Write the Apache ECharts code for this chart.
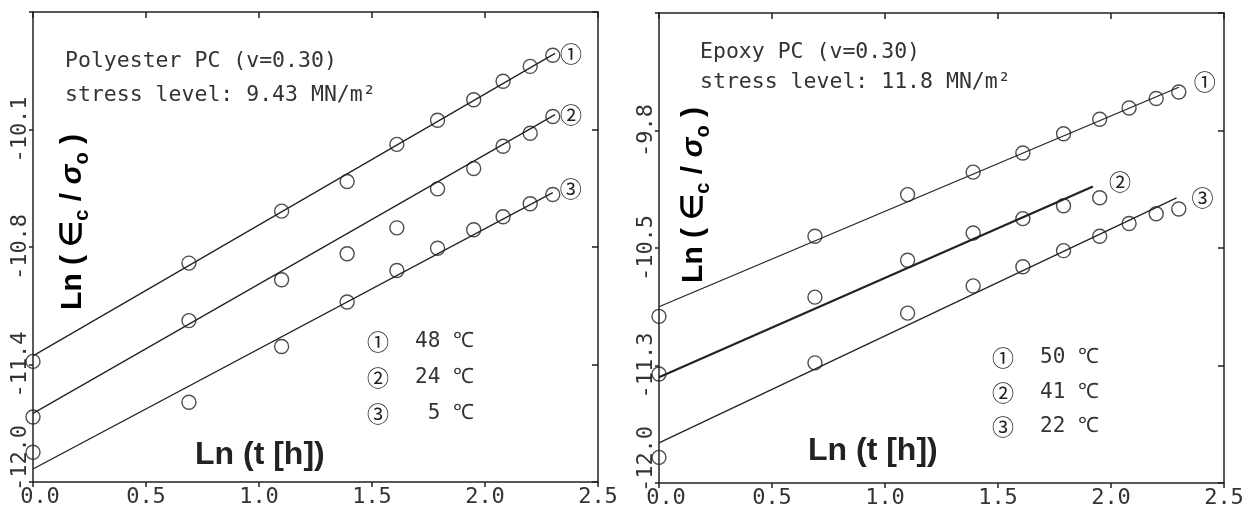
<!DOCTYPE html>
<html><head><meta charset="utf-8">
<script src="https://cdn.jsdelivr.net/npm/echarts@6/dist/echarts.min.js"></script>
<style>html,body{margin:0;padding:0;background:#fff}#c{width:1255px;height:510px}</style>
</head><body><div id="c"></div>
<script>
// ---------- data ----------
const lnT = [0.00, 0.69, 1.10, 1.39, 1.61, 1.79, 1.95, 2.08, 2.20, 2.30];

// Polyester PC (left)
const polyNames = ['P48', 'P24', 'P5'];
const polyTemps = ['48', '24', ' 5'];
const poly48 = [-11.35, -10.82, -10.54, -10.38, -10.18, -10.05, -9.94, -9.84, -9.76, -9.70];
const poly24 = [-11.65, -11.13, -10.91, -10.77, -10.63, -10.42, -10.31, -10.19, -10.12, -10.03];
const poly5  = [-11.84, -11.57, -11.27, -11.03, -10.86, -10.74, -10.64, -10.57, -10.50, -10.45];
const polyFit48 = [[0.00, -11.32], [2.31, -9.69]];
const polyFit24 = [[0.00, -11.63], [2.31, -10.02]];
const polyFit5  = [[0.00, -11.93], [2.30, -10.44]];

// Epoxy PC (right)
const epoxyNames = ['E50', 'E41', 'E22'];
const epoxyTemps = ['50', '41', '22'];
const epoxy50 = [-10.96, -10.46, -10.20, -10.06, -9.94, -9.82, -9.73, -9.66, -9.60, -9.56];
const epoxy41 = [-11.32, -10.84, -10.61, -10.44, -10.35, -10.27, -10.22];
const epoxy22 = [-11.84, -11.25, -10.94, -10.77, -10.65, -10.55, -10.46, -10.38, -10.32, -10.29];
const epoxyFit50 = [[0.00, -10.90], [2.30, -9.53]];
const epoxyFit41 = [[0.00, -11.34], [1.92, -10.15]];
const epoxyFit22 = [[0.00, -11.75], [2.29, -10.22]];

// tick labels
const xTickLabels = ['0.0', '0.5', '1.0', '1.5', '2.0', '2.5'];
const polyYLabels = ['-12.0', '-11.4', '-10.8', '-10.1', ''];
const epoxyYLabels = ['-12.0', '-11.3', '-10.5', '-9.8', ''];
const circled = ['①', '②', '③'];

const polyNote = ['Polyester PC (v=0.30)', 'stress level: 9.43 MN/m²'];
const epoxyNote = ['Epoxy PC (v=0.30)', 'stress level: 11.8 MN/m²'];

// ---------- styles ----------
const INK = '#222';
const INK2 = '#333';
const MONO = '"DejaVu Sans Mono", "Liberation Mono", monospace';
const CIRC = '"Noto Sans CJK JP", "DejaVu Sans", sans-serif';
const SANS = '"Liberation Sans", Arial, sans-serif';
const TICK_FS = 22;

const Y_MIN = -12.0;
const polyStep = 1.9 / 3;
const epoxyStep = 2.2 / 3;

function xAxes(grid) {
  const base = {
    type: 'value', gridIndex: grid, min: 0, max: 2.5, interval: 0.5,
    splitLine: { show: false },
    axisLine: { show: true, onZero: false, lineStyle: { color: INK, width: 1.5 } }
  };
  return [
    Object.assign({}, base, {
      position: 'bottom',
      axisTick: { show: true, inside: false, length: 5, lineStyle: { color: INK, width: 1.5 } },
      axisLabel: {
        margin: 4, fontFamily: MONO, fontSize: TICK_FS, color: INK2,
        formatter: v => {
          const s = xTickLabels[Math.round(v / 0.5)];
          return v === 0 ? '{f|' + s + '}' : s;
        },
        rich: { f: { padding: [0, 0, 0, 14], fontFamily: MONO, fontSize: TICK_FS, color: INK2 } }
      }
    }),
    Object.assign({}, base, {
      position: 'top',
      axisTick: { show: true, inside: true, length: 6, lineStyle: { color: INK, width: 1.5 } },
      axisLabel: { show: false }
    })
  ];
}

function yAxes(grid, step, labels) {
  const base = {
    type: 'value', gridIndex: grid, min: Y_MIN, max: Y_MIN + 4 * step, interval: step,
    splitLine: { show: false },
    axisLine: { show: true, onZero: false, lineStyle: { color: INK, width: 1.5 } }
  };
  return [
    Object.assign({}, base, {
      position: 'left',
      axisTick: { show: true, inside: false, length: 4, lineStyle: { color: INK, width: 1.5 } },
      axisLabel: {
        rotate: 90, margin: 2, fontFamily: MONO, fontSize: TICK_FS, color: INK2,
        formatter: v => {
          const i = Math.round((v - Y_MIN) / step);
          const s = labels[i] || '';
          return i === 0 ? '{f|' + s + '}' : s;
        },
        rich: { f: { padding: [0, 0, 0, 48], fontFamily: MONO, fontSize: TICK_FS, color: INK2 } }
      }
    }),
    Object.assign({}, base, {
      position: 'right',
      axisTick: { show: true, inside: true, length: 6, lineStyle: { color: INK, width: 1.5 } },
      axisLabel: { show: false }
    })
  ];
}

function pointSeries(name, ys, xi, yi) {
  return {
    name: name, type: 'scatter', xAxisIndex: xi, yAxisIndex: yi,
    data: ys.map((y, i) => [lnT[i], y]),
    symbol: 'circle', symbolSize: 14,
    itemStyle: { color: 'rgba(0,0,0,0)', borderColor: INK, borderWidth: 1.4 },
    z: 3
  };
}
function fitSeries(name, pts, xi, yi, label, offset, width) {
  return {
    name: name + ' fit', type: 'line', xAxisIndex: xi, yAxisIndex: yi,
    data: pts, showSymbol: false, symbol: 'none',
    lineStyle: { color: INK, width: width },
    endLabel: {
      show: true, formatter: label, fontFamily: CIRC, fontSize: 22, color: INK,
      distance: offset[0], offset: [0, offset[1]]
    },
    z: 2
  };
}

const polyOffsets = [[5, 0], [5, 0], [7, -4]];
const epoxyOffsets = [[15, -6], [16, -5], [15, 0]];

const series = [
  pointSeries(polyNames[0], poly48, 0, 0),
  pointSeries(polyNames[1], poly24, 0, 0),
  pointSeries(polyNames[2], poly5, 0, 0),
  fitSeries(polyNames[0], polyFit48, 0, 0, circled[0], polyOffsets[0], 1.3),
  fitSeries(polyNames[1], polyFit24, 0, 0, circled[1], polyOffsets[1], 1.3),
  fitSeries(polyNames[2], polyFit5, 0, 0, circled[2], polyOffsets[2], 1.3),
  pointSeries(epoxyNames[0], epoxy50, 2, 2),
  pointSeries(epoxyNames[1], epoxy41, 2, 2),
  pointSeries(epoxyNames[2], epoxy22, 2, 2),
  fitSeries(epoxyNames[0], epoxyFit50, 2, 2, circled[0], epoxyOffsets[0], 1.3),
  fitSeries(epoxyNames[1], epoxyFit41, 2, 2, circled[1], epoxyOffsets[1], 2.2),
  fitSeries(epoxyNames[2], epoxyFit22, 2, 2, circled[2], epoxyOffsets[2], 1.3)
];

function legendFor(names, temps, left, top, gap) {
  return {
    data: names, left: left, top: top, orient: 'vertical', icon: 'none',
    itemWidth: 0, itemHeight: 0, itemGap: gap, selectedMode: false, padding: 0,
    formatter: name => {
      const i = names.indexOf(name);
      return '{c|' + circled[i] + '}{t|' + temps[i] + ' ℃}';
    },
    textStyle: {
      rich: {
        c: { fontFamily: CIRC, fontSize: 22, width: 48, color: INK, lineHeight: 24 },
        t: { fontFamily: MONO, fontSize: 21, color: INK2, lineHeight: 24 }
      }
    }
  };
}

const yTitleRich = {
  b: { fontFamily: SANS, fontSize: 30, fontWeight: 'bold', color: INK, lineHeight: 38 },
  s: { fontFamily: SANS, fontSize: 20, fontWeight: 'bold', color: INK, lineHeight: 38, verticalAlign: 'bottom' },
  g: { fontFamily: SANS, fontSize: 30, fontWeight: 'bold', fontStyle: 'italic', color: INK, lineHeight: 38 }
};
const yTitleText = '{b|Ln ( ∈}{s|c}{b| / }{g|σ}{s|o}{b| )}';

function noteText(txt, x, y) {
  return { type: 'text', x: x, y: y, z: 10,
    style: { text: txt, fontFamily: MONO, fontSize: 21.5, fill: INK2, align: 'left', verticalAlign: 'middle' } };
}

const option = {
  animation: false,
  backgroundColor: '#fff',
  grid: [
    { left: 33, top: 12, width: 565, height: 470, outerBoundsMode: 'none', containLabel: false },
    { left: 659, top: 13, width: 565, height: 470, outerBoundsMode: 'none', containLabel: false }
  ],
  xAxis: xAxes(0).concat(xAxes(1)),
  yAxis: yAxes(0, polyStep, polyYLabels).concat(yAxes(1, epoxyStep, epoxyYLabels)),
  legend: [
    legendFor(polyNames, polyTemps, 362, 331, 14),
    legendFor(epoxyNames, epoxyTemps, 987, 347, 12.5)
  ],
  series: series,
  graphic: [
    noteText(polyNote[0], 65, 61),
    noteText(polyNote[1], 65, 95),
    noteText(epoxyNote[0], 700, 52),
    noteText(epoxyNote[1], 700, 82),
    { type: 'text', x: 195, y: 455, z: 10,
      style: { text: 'Ln (t [h])', fontFamily: SANS, fontSize: 32, fontWeight: 'bold', fill: INK, align: 'left', verticalAlign: 'middle' } },
    { type: 'text', x: 808, y: 451, z: 10,
      style: { text: 'Ln (t [h])', fontFamily: SANS, fontSize: 32, fontWeight: 'bold', fill: INK, align: 'left', verticalAlign: 'middle' } },
    { type: 'text', x: 73, y: 222, rotation: Math.PI / 2, z: 10,
      style: { text: yTitleText, rich: yTitleRich, align: 'center', verticalAlign: 'middle' } },
    { type: 'text', x: 694, y: 195, rotation: Math.PI / 2, z: 10,
      style: { text: yTitleText, rich: yTitleRich, align: 'center', verticalAlign: 'middle' } }
  ]
};

const chart = echarts.init(document.getElementById('c'), null, { renderer: 'canvas' });
chart.setOption(option);
</script>
</body></html>
